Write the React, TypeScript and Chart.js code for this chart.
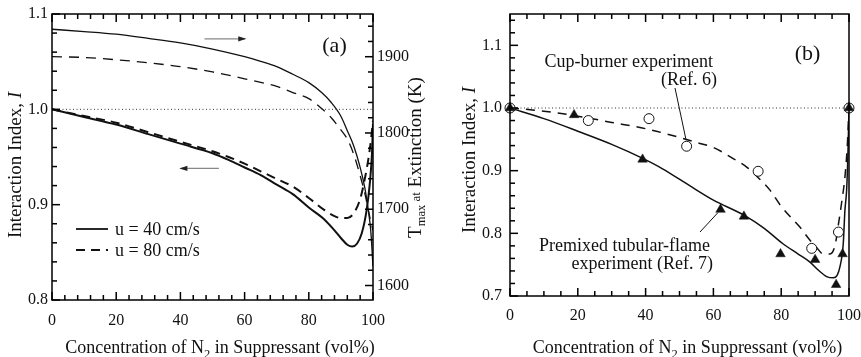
import React, { useEffect, useRef } from "react";
import { Chart, registerables } from "chart.js";
Chart.register(...registerables);

const SERIF = '"Liberation Serif", "Times New Roman", serif';
const INK = "#111";

// ---------- Panel (a): model results ----------
const A_X_TICKS = [0, 20, 40, 60, 80, 100];
const A_I_TICKS = [0.8, 0.9, 1.0, 1.1];
const A_T_TICKS = [1600, 1700, 1800, 1900];

// Interaction index, u = 40 cm/s (left axis)
const A_I40_X = [0, 10, 20, 30, 40, 50, 55, 60, 65, 70, 75, 80, 85, 88, 90, 92, 93.5, 95, 96.5, 98, 99, 99.7, 100];
const A_I40_Y = [1.0, 0.992, 0.984, 0.974, 0.964, 0.954, 0.947, 0.939, 0.931, 0.921, 0.911, 0.897, 0.884, 0.873, 0.865, 0.858, 0.856, 0.859, 0.87, 0.894, 0.922, 0.955, 0.985];
// Interaction index, u = 80 cm/s (left axis)
const A_I80_X = [0, 10, 20, 30, 40, 50, 55, 60, 65, 70, 75, 80, 85, 88, 90, 92, 94, 96, 97.5, 99, 100];
const A_I80_Y = [1.0, 0.993, 0.986, 0.976, 0.966, 0.956, 0.95, 0.943, 0.935, 0.927, 0.919, 0.907, 0.894, 0.888, 0.886, 0.886, 0.891, 0.906, 0.928, 0.958, 0.988];
// Tmax at extinction, u = 40 cm/s (right axis)
const A_T40_X = [0, 10, 20, 30, 40, 50, 60, 65, 70, 75, 80, 84, 87, 90, 92, 94, 96, 97.5, 98.5, 99.3, 100];
const A_T40_Y = [1936, 1933, 1929.5, 1924, 1918, 1910, 1900, 1894, 1887, 1877, 1866, 1853, 1840, 1822, 1803, 1783, 1755, 1727, 1700, 1672, 1625];
// Tmax at extinction, u = 80 cm/s (right axis)
const A_T80_X = [0, 10, 20, 30, 40, 50, 60, 70, 75, 80, 84, 87, 90, 92, 94, 96, 97.5, 99, 100];
const A_T80_Y = [1900, 1899, 1896, 1892, 1887, 1880, 1871, 1861, 1853, 1845, 1832, 1820, 1804, 1792, 1772, 1744, 1720, 1690, 1672];

// ---------- Panel (b): experiments ----------
const B_X_TICKS = [0, 20, 40, 60, 80, 100];
const B_I_TICKS = [0.7, 0.8, 0.9, 1.0, 1.1];

// Premixed tubular-flame experiment (Ref. 7): filled triangles
const B_TRI_X = [0, 18.9, 39.1, 62.1, 69, 79.8, 90, 96.2, 98.1, 100];
const B_TRI_Y = [1.0, 0.989, 0.918, 0.838, 0.827, 0.767, 0.758, 0.718, 0.767, 1.0];
// Cup-burner experiment (Ref. 6): open circles
const B_CIR_X = [0, 23.1, 41, 52.1, 73.2, 89, 96.9, 100];
const B_CIR_Y = [1.0, 0.98, 0.983, 0.939, 0.899, 0.776, 0.802, 1.0];
// Solid curve (premixed calculation)
const B_SOL_X = [0, 10, 20, 30, 39, 45, 53, 60, 69, 75, 80.6, 85, 88.5, 91, 93.4, 95.4, 96.5, 97.3, 98.3, 98.8, 99.3, 99.7, 100];
const B_SOL_Y = [1.0, 0.983, 0.963, 0.942, 0.92, 0.903, 0.876, 0.853, 0.829, 0.808, 0.783, 0.767, 0.754, 0.741, 0.731, 0.729, 0.733, 0.746, 0.783, 0.837, 0.869, 0.93, 1.0];
// Dashed curve (cup-burner calculation)
const B_DSH_X = [0, 10, 20, 30, 40, 50, 55, 60, 65, 70, 73, 76.7, 80, 85.5, 88.5, 90.5, 92.4, 94.4, 95.9, 96.9, 97.8, 98.8, 99.5, 100];
const B_DSH_Y = [1.0, 0.995, 0.987, 0.977, 0.967, 0.953, 0.945, 0.937, 0.922, 0.905, 0.89, 0.869, 0.843, 0.81, 0.789, 0.777, 0.767, 0.767, 0.781, 0.815, 0.848, 0.89, 0.94, 1.0];

const REF_X = [0, 100];
const REF_Y = [1.0, 1.0];

// arrows in panel (a), in data units of the left axis
const A_ARROW_RIGHT = { from: 47.5, to: 60.2, at: 1.074 };
const A_ARROW_LEFT = { from: 52, to: 40, at: 0.938 };

type Seg = { t: string; size: number; italic?: boolean; dy?: number };

function drawRich(ctx: CanvasRenderingContext2D, segs: Seg[], x: number, y: number, rot: number, align: "left" | "center" | "right") {
  ctx.save();
  ctx.translate(x, y);
  if (rot) ctx.rotate(rot);
  const fonts = segs.map((s) => `${s.italic ? "italic " : ""}${s.size}px ${SERIF}`);
  let total = 0;
  const widths = segs.map((s, i) => {
    ctx.font = fonts[i];
    const w = ctx.measureText(s.t).width;
    total += w;
    return w;
  });
  let cx = align === "center" ? -total / 2 : align === "right" ? -total : 0;
  ctx.textBaseline = "alphabetic";
  ctx.textAlign = "left";
  ctx.fillStyle = INK;
  segs.forEach((s, i) => {
    ctx.font = fonts[i];
    ctx.fillText(s.t, cx, s.dy || 0);
    cx += widths[i];
  });
  ctx.restore();
}

type TickSpec = { scale: string; side: "top" | "bottom" | "left" | "right"; start: number; end: number; step: number; major: number };

function drawTicks(chart: any, specs: TickSpec[]) {
  const { ctx, chartArea: ca, scales } = chart;
  ctx.save();
  ctx.globalAlpha = 1;
  ctx.globalCompositeOperation = "source-over";
  ctx.setLineDash([]);
  ctx.fillStyle = "#000";
  const w = 1.5;
  for (const sp of specs) {
    const sc = scales[sp.scale];
    const n = Math.round((sp.end - sp.start) / sp.step);
    for (let i = 0; i <= n; i++) {
      const v = sp.start + i * sp.step;
      const q = v / sp.major;
      const len = Math.abs(q - Math.round(q)) < 1e-6 ? 8 : 5;
      const p = sc.getPixelForValue(v);
      if (sp.side === "bottom") ctx.fillRect(p - w / 2, ca.bottom - len, w, len);
      else if (sp.side === "top") ctx.fillRect(p - w / 2, ca.top, w, len);
      else if (sp.side === "left") ctx.fillRect(ca.left, p - w / 2, len, w);
      else ctx.fillRect(ca.right - len, p - w / 2, len, w);
    }
  }
  ctx.strokeStyle = "#000";
  ctx.lineWidth = 1.5;
  ctx.strokeRect(ca.left, ca.top, ca.right - ca.left, ca.bottom - ca.top);
  ctx.restore();
}

function arrow(ctx: CanvasRenderingContext2D, x0: number, x1: number, y: number) {
  ctx.save();
  ctx.strokeStyle = "#888";
  ctx.lineWidth = 1.3;
  ctx.beginPath();
  ctx.moveTo(x0, y);
  ctx.lineTo(x1, y);
  ctx.stroke();
  const d = Math.sign(x1 - x0);
  ctx.fillStyle = "#222";
  ctx.beginPath();
  ctx.moveTo(x1 + d * 1, y);
  ctx.lineTo(x1 - d * 7, y - 2.6);
  ctx.lineTo(x1 - d * 7, y + 2.6);
  ctx.closePath();
  ctx.fill();
  ctx.restore();
}

const tickFont = { family: SERIF, size: 16 };

function line(x: number[], y: number[], axis: string, dash: number[], width: number, order = 5) {
  return {
    data: x.map((v, i) => ({ x: v, y: y[i] })),
    yAxisID: axis,
    borderColor: INK,
    borderWidth: width,
    borderDash: dash,
    pointRadius: 0,
    cubicInterpolationMode: "monotone" as const,
    fill: false,
    order,
  };
}

const A_TICK_SPECS: TickSpec[] = [
  { scale: "x", side: "bottom", start: 0, end: 100, step: 4, major: 20 },
  { scale: "x", side: "top", start: 0, end: 100, step: 4, major: 20 },
  { scale: "y", side: "left", start: 0.8, end: 1.1, step: 0.02, major: 0.1 },
  { scale: "y2", side: "right", start: 1600, end: 1940, step: 20, major: 100 },
];
const B_TICK_SPECS: TickSpec[] = [
  { scale: "x", side: "bottom", start: 0, end: 100, step: 5, major: 20 },
  { scale: "x", side: "top", start: 0, end: 100, step: 5, major: 20 },
  { scale: "y", side: "left", start: 0.7, end: 1.14, step: 0.02, major: 0.1 },
];

function makeChartA(canvas: HTMLCanvasElement) {
  const plugin = {
    id: "decorA",
    afterDraw(chart: any) {
      const { ctx, chartArea: ca, scales } = chart;
      drawTicks(chart, A_TICK_SPECS);
      ctx.save();
      arrow(ctx, scales.x.getPixelForValue(A_ARROW_RIGHT.from), scales.x.getPixelForValue(A_ARROW_RIGHT.to), scales.y.getPixelForValue(A_ARROW_RIGHT.at));
      arrow(ctx, scales.x.getPixelForValue(A_ARROW_LEFT.from), scales.x.getPixelForValue(A_ARROW_LEFT.to), scales.y.getPixelForValue(A_ARROW_LEFT.at));

      // legend
      ctx.strokeStyle = INK;
      ctx.lineWidth = 1.8;
      const lx0 = ca.left + 24, lx1 = ca.left + 56;
      const ly1 = ca.top + 215, ly2 = ca.top + 236;
      ctx.beginPath();
      ctx.moveTo(lx0, ly1);
      ctx.lineTo(lx1, ly1);
      ctx.stroke();
      ctx.setLineDash([9, 6]);
      ctx.beginPath();
      ctx.moveTo(lx0, ly2);
      ctx.lineTo(lx1, ly2);
      ctx.stroke();
      ctx.setLineDash([]);
      ctx.restore();
      drawRich(ctx, [{ t: "u = 40 cm/s", size: 18 }], ca.left + 63, ly1 + 6, 0, "left");
      drawRich(ctx, [{ t: "u = 80 cm/s", size: 18 }], ca.left + 63, ly2 + 6, 0, "left");
      drawRich(ctx, [{ t: "(a)", size: 22 }], ca.right - 38.5, ca.top + 38, 0, "center");

      drawRich(ctx, [{ t: "Interaction Index, ", size: 19 }, { t: "I", size: 19, italic: true }], 21, 165, -Math.PI / 2, "center");
      drawRich(
        ctx,
        [
          { t: "T", size: 19 },
          { t: "max", size: 12.5, dy: 4 },
          { t: " at", size: 13, dy: -1 },
          { t: " Extinction (K)", size: 19 },
        ],
        421,
        157.5,
        -Math.PI / 2,
        "center"
      );
      drawRich(
        ctx,
        [
          { t: "Concentration of N", size: 18 },
          { t: "2", size: 12.5, dy: 5 },
          { t: " in Suppressant (vol%)", size: 18 },
        ],
        220,
        352.5,
        0,
        "center"
      );
    },
  };

  return new Chart(canvas, {
    type: "line",
    data: {
      datasets: [
        { ...line(REF_X, REF_Y, "y", [1, 2.5], 1), borderColor: "#333" },
        line(A_I40_X, A_I40_Y, "y", [], 2),
        line(A_I80_X, A_I80_Y, "y", [9, 6], 2),
        line(A_T40_X, A_T40_Y, "y2", [], 1.3),
        line(A_T80_X, A_T80_Y, "y2", [10, 7], 1.3),
      ] as any,
    },
    options: {
      animation: false,
      responsive: false,
      layout: { padding: { left: 0, right: 0, top: 14, bottom: 0 } },
      plugins: { legend: { display: false }, tooltip: { enabled: false } },
      scales: {
        x: {
          type: "linear",
          min: 0,
          max: 100,
          grid: { display: false, drawTicks: false },
          border: { display: false },
          ticks: { font: tickFont, color: INK, padding: 11, maxRotation: 0 },
          afterBuildTicks: (s: any) => {
            s.ticks = A_X_TICKS.map((v) => ({ value: v }));
          },
          afterFit: (s: any) => {
            s.height = 57;
            s.paddingLeft = 0;
            s.paddingRight = 0;
          },
        },
        y: {
          type: "linear",
          position: "left",
          min: 0.8,
          max: 1.1,
          grid: { display: false, drawTicks: false },
          border: { display: false },
          ticks: { font: tickFont, color: INK, padding: 4, callback: (v: any) => Number(v).toFixed(1) },
          afterBuildTicks: (s: any) => {
            s.ticks = A_I_TICKS.map((v) => ({ value: v }));
          },
          afterFit: (s: any) => {
            s.width = 52;
            s.paddingTop = 0;
            s.paddingBottom = 0;
          },
        },
        y2: {
          type: "linear",
          position: "right",
          min: 1581,
          max: 1956,
          grid: { display: false, drawTicks: false },
          border: { display: false },
          ticks: { font: tickFont, color: INK, padding: 4, callback: (v: any) => String(v) },
          afterBuildTicks: (s: any) => {
            s.ticks = A_T_TICKS.map((v) => ({ value: v }));
          },
          afterFit: (s: any) => {
            s.width = 57;
            s.paddingTop = 0;
            s.paddingBottom = 0;
          },
        },
      },
    } as any,
    plugins: [plugin],
  });
}

function makeChartB(canvas: HTMLCanvasElement) {
  const plugin = {
    id: "decorB",
    afterDraw(chart: any) {
      const { ctx, chartArea: ca, scales } = chart;
      drawTicks(chart, B_TICK_SPECS);

      drawRich(ctx, [{ t: "(b)", size: 22 }], ca.left + 297.5, ca.top + 46, 0, "center");
      drawRich(ctx, [{ t: "Cup-burner experiment", size: 18 }], ca.left + 203, ca.top + 53, 0, "right");
      drawRich(ctx, [{ t: "(Ref. 6)", size: 18 }], ca.left + 207, ca.top + 71, 0, "right");
      drawRich(ctx, [{ t: "Premixed tubular-flame", size: 18 }], ca.left + 200, ca.top + 237, 0, "right");
      drawRich(ctx, [{ t: "experiment (Ref. 7)", size: 18 }], ca.left + 203, ca.top + 255, 0, "right");

      // pointer lines to data points
      ctx.save();
      ctx.strokeStyle = INK;
      ctx.lineWidth = 1;
      const cx = scales.x.getPixelForValue(B_CIR_X[3]);
      const cy = scales.y.getPixelForValue(B_CIR_Y[3]);
      ctx.beginPath();
      ctx.moveTo(ca.left + 165, ca.top + 74);
      ctx.lineTo(cx - 0.5, cy - 6);
      ctx.stroke();
      const tx = scales.x.getPixelForValue(B_TRI_X[3]);
      const ty = scales.y.getPixelForValue(B_TRI_Y[3]);
      ctx.beginPath();
      ctx.moveTo(ca.left + 190, ca.top + 218);
      ctx.lineTo(tx - 2.5, ty + 3);
      ctx.stroke();
      ctx.restore();

      drawRich(ctx, [{ t: "Interaction Index, ", size: 19 }, { t: "I", size: 19, italic: true }], 45, 160, -Math.PI / 2, "center");
      drawRich(
        ctx,
        [
          { t: "Concentration of N", size: 18 },
          { t: "2", size: 12.5, dy: 5 },
          { t: " in Suppressant (vol%)", size: 18 },
        ],
        257.5,
        352.5,
        0,
        "center"
      );
    },
  };

  return new Chart(canvas, {
    type: "line",
    data: {
      datasets: [
        { ...line(REF_X, REF_Y, "y", [1, 2.5], 1, 6), borderColor: "#333" },
        line(B_SOL_X, B_SOL_Y, "y", [], 1.5, 4),
        line(B_DSH_X, B_DSH_Y, "y", [9, 7], 1.5, 5),
        {
          data: B_CIR_X.map((v, i) => ({ x: v, y: B_CIR_Y[i] })),
          showLine: false,
          pointStyle: "circle",
          pointRadius: 5,
          pointBackgroundColor: "#fff",
          pointBorderColor: INK,
          pointBorderWidth: 1,
          clip: 12,
          order: 1,
        },
        {
          data: B_TRI_X.map((v, i) => ({ x: v, y: B_TRI_Y[i] })),
          showLine: false,
          pointStyle: "triangle",
          pointRadius: 5.5,
          pointBackgroundColor: INK,
          pointBorderColor: INK,
          pointBorderWidth: 0.5,
          clip: 12,
          order: 0,
        },
      ] as any,
    },
    options: {
      animation: false,
      responsive: false,
      layout: { padding: { left: 0, right: 12, top: 14, bottom: 0 } },
      plugins: { legend: { display: false }, tooltip: { enabled: false } },
      scales: {
        x: {
          type: "linear",
          min: 0,
          max: 100,
          grid: { display: false, drawTicks: false },
          border: { display: false },
          ticks: { font: tickFont, color: INK, padding: 10, maxRotation: 0 },
          afterBuildTicks: (s: any) => {
            s.ticks = B_X_TICKS.map((v) => ({ value: v }));
          },
          afterFit: (s: any) => {
            s.height = 61;
            s.paddingLeft = 0;
            s.paddingRight = 0;
          },
        },
        y: {
          type: "linear",
          position: "left",
          min: 0.7,
          max: 1.15,
          grid: { display: false, drawTicks: false },
          border: { display: false },
          ticks: { font: tickFont, color: INK, padding: 8, callback: (v: any) => Number(v).toFixed(1) },
          afterBuildTicks: (s: any) => {
            s.ticks = B_I_TICKS.map((v) => ({ value: v }));
          },
          afterFit: (s: any) => {
            s.width = 80;
            s.paddingTop = 0;
            s.paddingBottom = 0;
          },
        },
      },
    } as any,
    plugins: [plugin],
  });
}

export default function App() {
  const refA = useRef<HTMLCanvasElement>(null);
  const refB = useRef<HTMLCanvasElement>(null);
  useEffect(() => {
    const a = makeChartA(refA.current!);
    const b = makeChartB(refB.current!);
    return () => {
      a.destroy();
      b.destroy();
    };
  }, []);
  return (
    <div style={{ position: "absolute", left: 0, top: 0, width: 861, height: 357, background: "#fff" }}>
      <canvas ref={refA} width={430} height={357} style={{ position: "absolute", left: 0, top: 0, display: "block" }} />
      <canvas ref={refB} width={431} height={357} style={{ position: "absolute", left: 430, top: 0, display: "block" }} />
    </div>
  );
}
